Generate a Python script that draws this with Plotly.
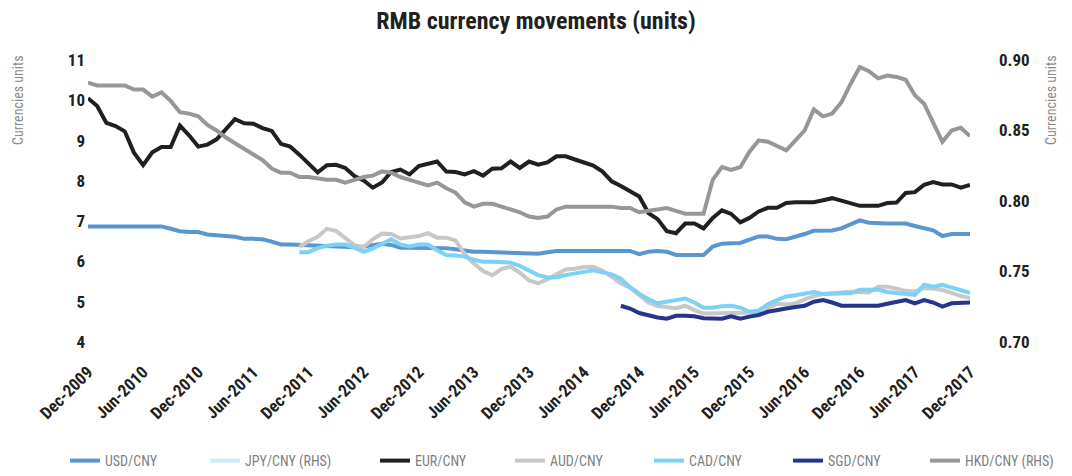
import pandas as pd
import plotly.graph_objects as go

# ---------------- data ----------------
months = pd.date_range("2009-12-01", "2017-12-01", freq="MS").strftime("%b-%Y").tolist()
tick_labels = months[::6]

usd_cny = [6.87, 6.87, 6.87, 6.87, 6.87, 6.87, 6.87, 6.87, 6.87, 6.81,
           6.75, 6.73, 6.73, 6.67, 6.66, 6.63, 6.61, 6.56, 6.56, 6.55,
           6.49, 6.42, 6.42, 6.41, 6.39, 6.37, 6.36, 6.35, 6.35, 6.35,
           6.37, 6.40, 6.44, 6.41, 6.34, 6.34, 6.34, 6.34, 6.34, 6.33,
           6.30, 6.26, 6.24, 6.24, 6.23, 6.21, 6.20, 6.20, 6.20, 6.19,
           6.23, 6.26, 6.26, 6.26, 6.26, 6.26, 6.26, 6.26, 6.26, 6.26,
           6.18, 6.24, 6.26, 6.24, 6.16, 6.16, 6.16, 6.16, 6.37, 6.44,
           6.45, 6.46, 6.54, 6.62, 6.62, 6.56, 6.55, 6.61, 6.68, 6.76,
           6.76, 6.77, 6.82, 6.92, 7.02, 6.96, 6.94, 6.94, 6.94, 6.94,
           6.88, 6.83, 6.77, 6.63, 6.68, 6.68, 6.68]

eur_cny = [10.05, 9.86, 9.44, 9.36, 9.23, 8.70, 8.39, 8.71, 8.84, 8.84,
           9.37, 9.13, 8.85, 8.90, 9.03, 9.27, 9.53, 9.43, 9.42, 9.31,
           9.24, 8.92, 8.85, 8.65, 8.42, 8.21, 8.39, 8.40, 8.32, 8.12,
           8.01, 7.83, 7.96, 8.22, 8.28, 8.16, 8.37, 8.43, 8.48, 8.23,
           8.22, 8.16, 8.24, 8.13, 8.30, 8.31, 8.48, 8.32, 8.48, 8.40,
           8.46, 8.61, 8.61, 8.53, 8.46, 8.38, 8.23, 7.99, 7.87, 7.74,
           7.61, 7.20, 7.05, 6.75, 6.70, 6.94, 6.94, 6.82, 7.08, 7.27,
           7.18, 6.97, 7.08, 7.24, 7.33, 7.33, 7.45, 7.47, 7.47, 7.47,
           7.52, 7.57, 7.51, 7.44, 7.38, 7.38, 7.38, 7.45, 7.46, 7.70,
           7.72, 7.90, 7.97, 7.91, 7.91, 7.83, 7.90]

hkd_cny = [0.884, 0.882, 0.882, 0.882, 0.882, 0.879, 0.879, 0.874, 0.877, 0.871,
           0.863, 0.862, 0.860, 0.854, 0.850, 0.845, 0.841, 0.837, 0.833, 0.829,
           0.823, 0.820, 0.820, 0.817, 0.817, 0.816, 0.815, 0.815, 0.813, 0.815,
           0.817, 0.818, 0.821, 0.820, 0.817, 0.815, 0.813, 0.811, 0.813, 0.809,
           0.806, 0.799, 0.796, 0.798, 0.798, 0.796, 0.794, 0.792, 0.789, 0.788,
           0.789, 0.794, 0.796, 0.796, 0.796, 0.796, 0.796, 0.796, 0.795, 0.795,
           0.792, 0.793, 0.794, 0.795, 0.793, 0.791, 0.791, 0.791, 0.815, 0.824,
           0.822, 0.824, 0.835, 0.843, 0.842, 0.839, 0.836, 0.843, 0.850, 0.865,
           0.860, 0.862, 0.870, 0.883, 0.895, 0.892, 0.887, 0.889, 0.888, 0.886,
           0.875, 0.869, 0.855, 0.842, 0.850, 0.852, 0.846]

# AUD and CAD start Nov-2011, SGD starts Oct-2014
aud_cny = [6.36, 6.50, 6.61, 6.81, 6.76, 6.57, 6.40, 6.36, 6.55, 6.69,
           6.68, 6.57, 6.61, 6.63, 6.70, 6.59, 6.59, 6.52, 6.18, 5.95,
           5.76, 5.66, 5.81, 5.87, 5.72, 5.53, 5.46, 5.55, 5.68, 5.80,
           5.82, 5.86, 5.87, 5.77, 5.62, 5.45, 5.35, 5.15, 4.98, 4.89,
           4.87, 4.84, 4.90, 4.79, 4.71, 4.71, 4.71, 4.71, 4.71, 4.71,
           4.73, 4.84, 4.95, 4.93, 4.96, 5.06, 5.14, 5.19, 5.21, 5.22,
           5.25, 5.24, 5.23, 5.37, 5.37, 5.32, 5.27, 5.25, 5.34, 5.33,
           5.29, 5.22, 5.14, 5.09]

cad_cny = [6.23, 6.23, 6.33, 6.39, 6.42, 6.42, 6.34, 6.24, 6.32, 6.44,
           6.55, 6.42, 6.37, 6.42, 6.42, 6.28, 6.16, 6.15, 6.12, 6.04,
           5.99, 5.99, 5.98, 5.97, 5.89, 5.78, 5.66, 5.60, 5.61, 5.66,
           5.71, 5.74, 5.78, 5.73, 5.68, 5.57, 5.36, 5.20, 5.06, 4.96,
           4.99, 5.04, 5.08, 4.98, 4.85, 4.85, 4.89, 4.90, 4.85, 4.75,
           4.78, 4.94, 5.04, 5.13, 5.16, 5.20, 5.24, 5.19, 5.20, 5.20,
           5.21, 5.30, 5.30, 5.30, 5.24, 5.21, 5.19, 5.17, 5.42, 5.37,
           5.42, 5.36, 5.29, 5.22]

sgd_cny = [4.90, 4.83, 4.72, 4.66, 4.61, 4.58, 4.65, 4.65, 4.64, 4.59,
           4.58, 4.58, 4.64, 4.58, 4.63, 4.67, 4.75, 4.78, 4.83, 4.87,
           4.90, 5.00, 5.04, 4.98, 4.90, 4.90, 4.90, 4.90, 4.90, 4.95,
           5.00, 5.04, 4.96, 5.04, 4.98, 4.88, 4.96, 4.98, 4.98]

# JPY/CNY (RHS) lies far below the 0.70-0.90 right-hand scale, so it is off-chart
jpy_cny = [0.074, 0.077, 0.081, 0.080, 0.081, 0.080, 0.073, 0.062, 0.058,
           0.060, 0.052, 0.050, 0.054, 0.064, 0.059, 0.059, 0.058]

left_ticks = [4, 5, 6, 7, 8, 9, 10, 11]
right_ticks = [0.70, 0.75, 0.80, 0.85, 0.90]

# ---------------- styling ----------------
NARROW = "Liberation Sans Narrow, Arial Narrow, Roboto Condensed, DejaVu Sans Condensed, Roboto, sans-serif"
W, H = 1072, 476
L, R, T, B = 88, 102, 60, 134
PW, PH = W - L - R, H - T - B


def px_x(px):
    return (px - L) / PW


def px_y(py):
    return (H - B - py) / PH


series = [
    ("USD/CNY", months, usd_cny, "y", "#5b96d0"),
    ("JPY/CNY (RHS)", tick_labels, jpy_cny, "y2", "#cfe9f9"),
    ("EUR/CNY", months, eur_cny, "y", "#231f20"),
    ("AUD/CNY", months[23:], aud_cny, "y", "#c8c8c8"),
    ("CAD/CNY", months[23:], cad_cny, "y", "#7dd1f5"),
    ("SGD/CNY", months[58:], sgd_cny, "y", "#27348b"),
    ("HKD/CNY (RHS)", months, hkd_cny, "y2", "#979797"),
]
legend_x = [65, 205, 375, 510, 649, 788, 925]

fig = go.Figure()
layout_legends = {}
for i, (name, xs, ys, yax, col) in enumerate(series):
    lg = "legend" if i == 0 else f"legend{i + 1}"
    fig.add_trace(go.Scatter(
        x=xs, y=ys, name=name, yaxis=yax, mode="lines",
        line=dict(color=col, width=4), legend=lg,
    ))
    layout_legends[lg] = dict(
        xref="container", yref="container",
        x=legend_x[i] / W, y=1 - 461 / H, xanchor="left", yanchor="middle",
        orientation="h", bgcolor="rgba(0,0,0,0)", borderwidth=0,
        font=dict(family=NARROW, size=14, color="#7f7f7f"),
        itemwidth=30,
    )

fig.update_layout(
    width=W, height=H,
    margin=dict(l=L, r=R, t=T, b=B),
    paper_bgcolor="white", plot_bgcolor="white",
    showlegend=True,
    title=dict(text="<b>RMB currency movements (units)</b>", x=0.5, xanchor="center",
               xref="container", y=1 - 21 / H, yref="container", yanchor="middle",
               font=dict(family=NARROW, size=24, color="#231f20")),
    xaxis=dict(
        type="category", categoryorder="array", categoryarray=months,
        range=[0, len(months) - 1], automargin=False,
        tickmode="array", tickvals=tick_labels, ticktext=tick_labels,
        tickangle=-45, showgrid=False, zeroline=False, showline=False, ticks="",
        ticklabelstandoff=16,
        tickfont=dict(family=NARROW, size=17, color="#231f20", weight="bold"),
    ),
    yaxis=dict(
        range=[4, 11], tickvals=left_ticks, showgrid=False, zeroline=False,
        showline=False, ticks="", ticklabelstandoff=2, automargin=False,
        tickfont=dict(family=NARROW, size=17, color="#231f20", weight="bold"),
    ),
    yaxis2=dict(
        range=[0.70, 0.90], tickvals=right_ticks, tickformat=".2f",
        overlaying="y", side="right", showgrid=False, zeroline=False,
        showline=False, ticks="", ticklabelstandoff=28, automargin=False,
        tickfont=dict(family=NARROW, size=17, color="#231f20", weight="bold"),
    ),
    annotations=[
        dict(text="Currencies units", xref="paper", yref="paper",
             x=px_x(18), y=px_y(53), xanchor="center", yanchor="top",
             textangle=-90, showarrow=False,
             font=dict(family=NARROW, size=14, color="#8a8a8a")),
        dict(text="Currencies units", xref="paper", yref="paper",
             x=px_x(1051), y=px_y(53), xanchor="center", yanchor="top",
             textangle=-90, showarrow=False,
             font=dict(family=NARROW, size=14, color="#8a8a8a")),
    ],
    **layout_legends,
)

fig.write_html("out.html", config={"displayModeBar": False},
               post_script="document.body.style.margin='0px';")
